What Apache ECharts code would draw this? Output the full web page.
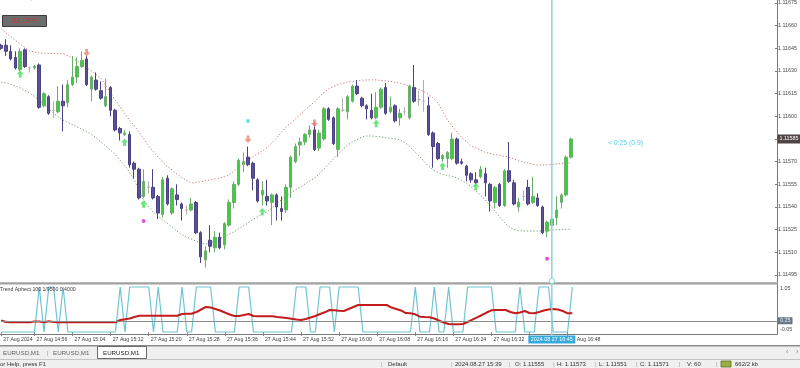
<!DOCTYPE html>
<html><head><meta charset="utf-8">
<script src="https://cdn.jsdelivr.net/npm/echarts@6/dist/echarts.min.js"></script>
<style>html,body{margin:0;padding:0;background:#fff;overflow:hidden}#c{width:800px;height:368px}</style>
</head><body><div id="c"></div>
<script>
// ---------- DATA ----------
const startTime = '14:49';
const slotCount = 164;          // visible bar slots (incl. empty right shift)
const lastLabelIndex = 119;     // last labelled bar (16:48)
const crossIndex = 116;         // crosshair bar (16:45)

const opens = [1.11647,1.11647,1.11643,1.11639,1.11631,1.11644,1.11632,1.11632,1.11634,1.11607,
1.11613,1.11604,1.11603,1.11610,1.11609,1.11621,1.11626,1.11633,1.11638,1.11618,
1.11624,1.11617,1.11607,1.11619,1.11604,1.11592,1.11588,1.11588,1.11569,1.11565,
1.11547,1.11553,1.11553,1.11547,1.11535,1.11559,1.11536,1.11548,1.11542,1.11538,
1.11538,1.11543,1.11523,1.11505,1.11518,1.11513,1.11520,1.11515,1.11528,1.11543,
1.11555,1.11568,1.11573,1.11569,1.11558,1.11548,1.11547,1.11543,1.11548,1.11539,
1.11538,1.11553,1.11570,1.11581,1.11583,1.11588,1.11591,1.11579,1.11585,1.11605,
1.11599,1.11578,1.11604,1.11603,1.11610,1.11620,1.11612,1.11607,1.11604,1.11599,
1.11606,1.11619,1.11603,1.11607,1.11599,1.11603,1.11599,1.11619,1.11611,1.11610,
1.11607,1.11589,1.11582,1.11572,1.11572,1.11572,1.11585,1.11570,1.11567,1.11562,
1.11558,1.11560,1.11562,1.11555,1.11543,1.11555,1.11541,1.11564,1.11556,1.11540,
1.11547,1.11553,1.11543,1.11546,1.11540,1.11524,1.11528,1.11533,1.11543,1.11548,
1.11573];
const highs = [1.11648,1.11651,1.11647,1.11643,1.11645,1.11645,1.11633,1.11634,1.11635,1.11616,
1.11614,1.11610,1.11620,1.11621,1.11624,1.11640,1.11639,1.11643,1.11640,1.11627,
1.11629,1.11623,1.11625,1.11620,1.11605,1.11593,1.11591,1.11590,1.11570,1.11566,
1.11565,1.11557,1.11565,1.11548,1.11560,1.11561,1.11553,1.11555,1.11543,1.11541,
1.11546,1.11544,1.11524,1.11514,1.11528,1.11524,1.11523,1.11530,1.11545,1.11557,
1.11572,1.11576,1.11580,1.11570,1.11559,1.11557,1.11558,1.11549,1.11549,1.11547,
1.11555,1.11574,1.11582,1.11586,1.11589,1.11594,1.11596,1.11591,1.11606,1.11606,
1.11600,1.11606,1.11612,1.11614,1.11621,1.11624,1.11613,1.11608,1.11615,1.11616,
1.11619,1.11622,1.11613,1.11608,1.11605,1.11606,1.11621,1.11634,1.11617,1.11624,
1.11613,1.11590,1.11583,1.11575,1.11577,1.11589,1.11586,1.11572,1.11568,1.11563,
1.11563,1.11567,1.11566,1.11556,1.11554,1.11556,1.11565,1.11583,1.11558,1.11546,
1.11551,1.11558,1.11560,1.11549,1.11541,1.11531,1.11534,1.11547,1.11549,1.11574,
1.11586];
const lows = [1.11644,1.11640,1.11637,1.11631,1.11630,1.11632,1.11629,1.11631,1.11605,1.11606,
1.11601,1.11599,1.11602,1.11590,1.11606,1.11620,1.11622,1.11632,1.11620,1.11610,
1.11617,1.11611,1.11606,1.11600,1.11590,1.11584,1.11587,1.11566,1.11559,1.11545,
1.11546,1.11549,1.11545,1.11532,1.11533,1.11541,1.11535,1.11541,1.11531,1.11535,
1.11537,1.11522,1.11503,1.11500,1.11510,1.11510,1.11512,1.11512,1.11527,1.11539,
1.11554,1.11563,1.11567,1.11551,1.11543,1.11541,1.11541,1.11528,1.11531,1.11531,
1.11536,1.11546,1.11569,1.11574,1.11581,1.11586,1.11577,1.11577,1.11584,1.11597,
1.11581,1.11573,1.11603,1.11598,1.11609,1.11614,1.11606,1.11598,1.11598,1.11598,
1.11605,1.11601,1.11602,1.11596,1.11594,1.11601,1.11598,1.11609,1.11607,1.11603,
1.11587,1.11566,1.11571,1.11570,1.11566,1.11571,1.11568,1.11568,1.11557,1.11556,
1.11555,1.11559,1.11547,1.11537,1.11539,1.11540,1.11540,1.11556,1.11541,1.11537,
1.11544,1.11541,1.11542,1.11540,1.11522,1.11520,1.11527,1.11528,1.11539,1.11547,
1.11572];
const closes = [1.11645,1.11643,1.11638,1.11632,1.11643,1.11633,1.11632,1.11633,1.11606,1.11615,
1.11602,1.11604,1.11610,1.11607,1.11621,1.11626,1.11633,1.11637,1.11621,1.11626,
1.11618,1.11612,1.11613,1.11604,1.11591,1.11589,1.11589,1.11568,1.11565,1.11546,
1.11557,1.11553,1.11546,1.11536,1.11558,1.11542,1.11552,1.11545,1.11539,1.11538,
1.11542,1.11523,1.11507,1.11511,1.11514,1.11520,1.11513,1.11529,1.11543,1.11555,
1.11571,1.11570,1.11568,1.11559,1.11544,1.11551,1.11544,1.11548,1.11540,1.11537,
1.11553,1.11573,1.11580,1.11583,1.11588,1.11591,1.11578,1.11589,1.11605,1.11598,
1.11582,1.11605,1.11604,1.11613,1.11620,1.11615,1.11607,1.11605,1.11599,1.11606,
1.11618,1.11602,1.11606,1.11597,1.11602,1.11603,1.11620,1.11610,1.11611,1.11610,
1.11588,1.11580,1.11572,1.11574,1.11576,1.11585,1.11569,1.11569,1.11561,1.11558,
1.11556,1.11565,1.11556,1.11544,1.11553,1.11541,1.11564,1.11557,1.11542,1.11543,
1.11547,1.11542,1.11547,1.11541,1.11523,1.11530,1.11532,1.11538,1.11548,1.11573,
1.11585];

const upperBand = [1.116581,1.116552,1.116528,1.116502,1.116479,1.116456,1.116433,1.116426,1.116419,1.116418,
1.116416,1.116416,1.116416,1.116413,1.116403,1.116386,1.116366,1.116343,1.116320,1.116300,
1.116277,1.116251,1.116208,1.116158,1.116108,1.116065,1.116019,1.115976,1.115940,1.115897,
1.115854,1.115807,1.115768,1.115731,1.115698,1.115668,1.115645,1.115619,1.115595,1.115576,
1.115559,1.115562,1.115567,1.115574,1.115579,1.115586,1.115592,1.115599,1.115612,1.115639,
1.115662,1.115685,1.115711,1.115733,1.115751,1.115771,1.115794,1.115824,1.115857,1.115893,
1.115930,1.115956,1.115983,1.116012,1.116042,1.116069,1.116095,1.116128,1.116158,1.116181,
1.116198,1.116210,1.116217,1.116227,1.116231,1.116234,1.116239,1.116241,1.116241,1.116241,
1.116237,1.116235,1.116232,1.116225,1.116219,1.116211,1.116201,1.116191,1.116178,1.116165,
1.116145,1.116122,1.116088,1.116035,1.115976,1.115936,1.115897,1.115860,1.115834,1.115804,
1.115791,1.115777,1.115761,1.115754,1.115748,1.115742,1.115736,1.115729,1.115719,1.115708,
1.115698,1.115691,1.115682,1.115678,1.115678,1.115678,1.115682,1.115685,1.115688,1.115691,
1.115693];
const lowerBand = [1.116227,1.116221,1.116212,1.116201,1.116188,1.116171,1.116155,1.116132,1.116108,1.116079,
1.116049,1.116022,1.115996,1.115976,1.115959,1.115946,1.115930,1.115914,1.115899,1.115881,
1.115857,1.115830,1.115804,1.115777,1.115748,1.115711,1.115675,1.115632,1.115579,1.115513,
1.115447,1.115404,1.115367,1.115341,1.115314,1.115291,1.115268,1.115241,1.115218,1.115202,
1.115189,1.115175,1.115162,1.115155,1.115159,1.115172,1.115189,1.115205,1.115218,1.115235,
1.115255,1.115275,1.115294,1.115318,1.115334,1.115354,1.115367,1.115394,1.115420,1.115447,
1.115473,1.115493,1.115513,1.115533,1.115552,1.115572,1.115592,1.115619,1.115652,1.115685,
1.115718,1.115751,1.115781,1.115811,1.115830,1.115847,1.115863,1.115870,1.115870,1.115867,
1.115863,1.115859,1.115855,1.115850,1.115844,1.115827,1.115801,1.115771,1.115738,1.115705,
1.115672,1.115645,1.115629,1.115615,1.115609,1.115602,1.115592,1.115576,1.115559,1.115533,
1.115506,1.115476,1.115447,1.115410,1.115374,1.115334,1.115298,1.115268,1.115251,1.115245,
1.115241,1.115241,1.115241,1.115241,1.115243,1.115246,1.115248,1.115249,1.115251,1.115253,
1.115253];

// signal markers: [bar index, price]
const sellArrows = [[18,1.116421],[52,1.115848],[66,1.115954]];
const buyArrows = [[4,1.116280],[26,1.115828],[30,1.115420],[55,1.115369],[79,1.115953],[93,1.115670],[100,1.115535]];
const cyanDots = [[52,1.115969]];
const magentaDots = [[30,1.115308],[115,1.115058]];

// indicator pane
const trendSignal = [0,0,0,0,0,0,0,0,1,0,
1,1,0,1,0,0,0,0,0,0,
0,0,0,0,0,1,0,1,1,1,
1,1,0,1,0,0,0,0,1,0,
0,1,1,1,1,0,0,0,0,0,
1,1,1,0,0,0,0,0,0,0,
0,0,1,1,1,0,0,1,1,1,
0,1,1,1,1,1,0,0,0,0,
0,0,0,0,0,0,0,1,0,0,
0,1,0,0,1,0,0,0,1,1,
1,1,1,1,0,0,0,0,0,1,
0,0,0,1,1,1,0,0,0,0,
1];
const trendLine = [0.256,0.222,0.216,0.216,0.216,0.216,0.216,0.233,0.233,0.216,
0.238,0.222,0.216,0.216,0.216,0.216,0.216,0.216,0.216,0.216,
0.216,0.216,0.216,0.216,0.216,0.267,0.282,0.300,0.333,0.360,
0.362,0.362,0.362,0.362,0.362,0.362,0.362,0.362,0.400,0.407,
0.407,0.444,0.500,0.556,0.544,0.511,0.478,0.433,0.389,0.356,
0.356,0.378,0.400,0.356,0.349,0.349,0.349,0.349,0.333,0.322,
0.311,0.296,0.278,0.267,0.289,0.322,0.356,0.400,0.438,0.489,
0.482,0.473,0.467,0.511,0.556,0.600,0.600,0.600,0.600,0.600,
0.600,0.600,0.544,0.511,0.478,0.422,0.416,0.393,0.340,0.333,
0.329,0.300,0.251,0.211,0.178,0.171,0.171,0.178,0.222,0.273,
0.327,0.378,0.433,0.482,0.489,0.489,0.489,0.444,0.416,0.433,
0.467,0.422,0.416,0.444,0.478,0.500,0.511,0.500,0.467,0.416,
0.416];
const trendLevel = 0.25;

const priceTicks = {min:1.11495, max:1.11675, step:0.00015};
const indTicks = {min:-0.05, max:1.05};

// ---------- BUILD ----------
const [sh, sm] = startTime.split(':').map(Number);
const categories = [];
for (let i = 0; i < slotCount; i++) {
  const t = sh*60 + sm + i;
  categories.push(String(Math.floor(t/60)).padStart(2,'0') + ':' + String(t%60).padStart(2,'0'));
}
const isLabelled = (idx) => idx === 0 || (idx <= lastLabelIndex && (sh*60+sm+idx) % 8 === 0);
const candleData = opens.map((o,i) => [o, closes[i], lows[i], highs[i]]);
const lastClose = closes[closes.length-1];

const F = 'Liberation Sans, Arial, sans-serif';
const chart = echarts.init(document.getElementById('c'), null, {renderer:'canvas'});
const arrowUp = 'path://M4,0 L8,4.2 L5.6,4.2 L5.6,8 L2.4,8 L2.4,4.2 L0,4.2 Z';

chart.setOption({
  animation:false,
  backgroundColor:'#ffffff',
  grid:[
    {left:1.2, right:23, top:3, height:272},
    {left:1.2, right:23, top:284.75, height:49.5}
  ],
  xAxis:[
    {type:'category', gridIndex:0, data:categories, boundaryGap:false, show:false},
    {type:'category', gridIndex:1, data:categories, boundaryGap:false,
     axisLine:{show:false},
     axisTick:{show:true, interval:(i)=>isLabelled(i), length:4, lineStyle:{color:'#8a8a8a'}},
     axisLabel:{interval:(i)=>isLabelled(i), align:'left', margin:3, padding:[0,0,0,2],
       fontSize:5.2, fontFamily:F, color:'#404040',
       formatter:(v,idx)=> idx===0 ? '27 Aug 2024' : '27 Aug ' + v}}
  ],
  yAxis:[
    {type:'value', gridIndex:0, position:'right', min:priceTicks.min, max:priceTicks.max, interval:priceTicks.step,
     axisLine:{show:false}, splitLine:{show:false},
     axisTick:{show:true, length:3, lineStyle:{color:'#7a7a7a'}},
     axisLabel:{margin:3, fontSize:5.4, fontFamily:F, color:'#4a4a4a', formatter:(v)=>v.toFixed(5)}},
    {type:'value', gridIndex:1, position:'right', min:indTicks.min, max:indTicks.max, interval:0.05,
     axisLine:{show:false}, splitLine:{show:false}, axisTick:{show:false},
     axisLabel:{margin:3, fontSize:5.4, fontFamily:F, color:'#4a4a4a', showMinLabel:true, showMaxLabel:true,
       formatter:(v)=>{
         if (Math.abs(v-indTicks.max)<1e-6) return '{t|'+indTicks.max.toFixed(2)+'}';
         if (Math.abs(v-indTicks.min)<1e-6) return '{b|'+indTicks.min.toFixed(2)+'}';
         if (Math.abs(v)<1e-6) return '0.00';
         return '';
       },
       rich:{t:{padding:[8,0,0,0], fontSize:5.4, fontFamily:F, color:'#4a4a4a'},
             b:{padding:[0,0,9,0], fontSize:5.4, fontFamily:F, color:'#4a4a4a'}}}}
  ],
  series:[
    {type:'line', xAxisIndex:0, yAxisIndex:0, data:upperBand, showSymbol:false, silent:true,
     lineStyle:{type:[1.2,2], width:1, color:'#c77a72'}, z:2},
    {type:'line', xAxisIndex:0, yAxisIndex:0, data:lowerBand, showSymbol:false, silent:true,
     lineStyle:{type:[1.2,2], width:1, color:'#6c9a6c'}, z:2},
    {type:'candlestick', xAxisIndex:0, yAxisIndex:0, data:candleData, barWidth:3, z:3,
     itemStyle:{color:'#3ccf3c', color0:'#5a5096', borderColor:'#6aae6a', borderColor0:'#4a4284',
       borderColorDoji:'#b0b0b0', borderWidth:1},
     markLine:{silent:true, symbol:['none','none'], animation:false,
       lineStyle:{color:'#e6e6e6', width:1, type:'solid'},
       label:{show:false},
       data:[{yAxis:lastClose}]}},
    {type:'scatter', xAxisIndex:0, yAxisIndex:0, data:buyArrows, symbol:arrowUp, symbolSize:[7,7.5],
     itemStyle:{color:'#44e05a'}, z:5, silent:true},
    {type:'scatter', xAxisIndex:0, yAxisIndex:0, data:sellArrows, symbol:arrowUp, symbolRotate:180, symbolSize:[7,7.5],
     itemStyle:{color:'#ea7f6c'}, z:5, silent:true},
    {type:'scatter', xAxisIndex:0, yAxisIndex:0, data:cyanDots, symbol:'circle', symbolSize:4,
     itemStyle:{color:'#40d8e4'}, z:5, silent:true},
    {type:'scatter', xAxisIndex:0, yAxisIndex:0, data:magentaDots, symbol:'circle', symbolSize:4,
     itemStyle:{color:'#e020d8'}, z:5, silent:true},
    {type:'line', xAxisIndex:1, yAxisIndex:1, data:trendSignal, showSymbol:false, silent:true,
     lineStyle:{width:1.2, color:'#6ec4d4'}, z:2},
    {type:'line', xAxisIndex:1, yAxisIndex:1, data:trendLine, showSymbol:false, silent:true,
     lineStyle:{width:2, color:'#c41c1c'}, z:3,
     markLine:{silent:true, symbol:['none','none'], animation:false,
       lineStyle:{color:'#8c8c8c', width:1, type:'solid'},
       label:{position:'end', distance:1, formatter:()=>trendLevel.toFixed(2), fontSize:5.4, fontFamily:F,
         color:'#eef2f6', backgroundColor:'#66778a', padding:[1,2,1,2]},
       data:[{yAxis:trendLevel}]}}
  ]
});

// ---------- window decorations ----------
const cx = chart.convertToPixel({gridIndex:0}, [crossIndex, lastClose])[0];
const bidY = chart.convertToPixel({gridIndex:0}, [0, lastClose])[1];
const txt = (x,y,s,opt,z) => ({type:'text', x, y, silent:true, z:z||50,
  style:Object.assign({text:s, font:'6px '+F, fill:'#303030', textVerticalAlign:'middle'}, opt||{})});
const ln = (x1,y1,x2,y2,stroke,w) => ({type:'line', silent:true, z:40,
  shape:{x1,y1,x2,y2}, style:{stroke, lineWidth:w||1}});
const statusY = 364.5;
chart.setOption({graphic:[
  // top partial info line
  txt(5,-1.5,'EURUSD,M1  1.11555 1.11573 1.11551 1.11571 1.11571 1.11571',{font:'6px '+F, fill:'#707070'}),
  // ZZ OFF button
  {type:'rect', silent:true, z:50, shape:{x:2.5,y:15.5,width:44,height:11}, style:{fill:'#6d6d6d', stroke:'#3c3c3c', lineWidth:1}},
  txt(24.5,21,'ZZ OFF',{font:'7.2px '+F, fill:'#e62a2a', textAlign:'center'},52),
  // pane frames
  ln(777.5,0,777.5,334.5,'#7a7a7a',1),
  {type:'rect', silent:true, z:40, shape:{x:0,y:282.3,width:778,height:2.2}, style:{fill:'#a0a0a0'}},
  ln(0,334.5,778,334.5,'#7a7a7a',1),
  txt(0,289.5,'Trend Aphect 100 1/9500 0.4000',{font:'5.2px '+F, fill:'#3a3a3a'}),
  // bid price box on the price scale
  {type:'rect', silent:true, z:55, shape:{x:777.5,y:bidY-4.5,width:23,height:9}, style:{fill:'#4f4545'}},
  txt(779.5,bidY,lastClose.toFixed(5),{font:'5.4px '+F, fill:'#ffffff'},57),
  // candle timer text
  txt(608,143.5,'< 0:25 (0.9)',{font:'6.8px '+F, fill:'#5ccfe0'}),
  // crosshair
  ln(cx,0,cx,335,'#8cd2e2',1.5),
  {type:'circle', silent:true, z:45, shape:{cx:cx, cy:281, r:2.6}, style:{fill:'#ffffff', stroke:'#8cd2e2', lineWidth:1}},
  {type:'rect', silent:true, z:48, shape:{x:cx-23.5,y:335.5,width:47,height:8}, style:{fill:'#36a9dc'}},
  txt(cx,339.6,'2024.08.27 ' + categories[crossIndex],{font:'5.4px '+F, fill:'#ffffff', textAlign:'center'},52),
  // tab bar
  ln(0,345.7,800,345.7,'#8a8a8a',1.4),
  {type:'rect', silent:true, z:39, shape:{x:0,y:346.5,width:800,height:13}, style:{fill:'#efefef'}},
  txt(3,353,'EURUSD,M1',{font:'6.2px '+F, fill:'#606060'}),
  txt(47,353,'|',{font:'6.2px '+F, fill:'#909090'}),
  txt(53,353,'EURUSD,M1',{font:'6.2px '+F, fill:'#606060'}),
  {type:'rect', silent:true, z:45, shape:{x:97.5,y:346.5,width:49,height:12}, style:{fill:'#ffffff', stroke:'#6a6a6a', lineWidth:1}},
  txt(103,353,'EURUSD,M1',{font:'6.2px '+F, fill:'#202020'}),
  txt(786,352.5,'‹',{font:'7px '+F, fill:'#808080'}),
  txt(796,352.5,'›',{font:'7px '+F, fill:'#808080'}),
  // status bar
  {type:'rect', silent:true, z:39, shape:{x:0,y:359.5,width:800,height:9}, style:{fill:'#f0f0f0'}},
  ln(0,359.5,800,359.5,'#c4c4c4',1),
  txt(0,statusY,'or Help, press F1'),
  txt(381,statusY,'|',{fill:'#a0a0a0'}),
  txt(388,statusY,'Default'),
  txt(451,statusY,'|',{fill:'#a0a0a0'}),
  txt(455,statusY,'2024.08.27 15:39'),
  txt(509,statusY,'|',{fill:'#a0a0a0'}),
  txt(515,statusY,'O: 1.11555'),
  txt(553,statusY,'|',{fill:'#a0a0a0'}),
  txt(557,statusY,'H: 1.11573'),
  txt(595,statusY,'|',{fill:'#a0a0a0'}),
  txt(599,statusY,'L: 1.11551'),
  txt(636,statusY,'|',{fill:'#a0a0a0'}),
  txt(640,statusY,'C: 1.11571'),
  txt(679,statusY,'|',{fill:'#a0a0a0'}),
  txt(687,statusY,'V: 60'),
  txt(716,statusY,'|',{fill:'#a0a0a0'}),
  {type:'rect', silent:true, z:50, shape:{x:721,y:361,width:10,height:6}, style:{fill:'#9cb040', stroke:'#5a6a2a', lineWidth:0.8}},
  txt(735,statusY,'662/2 kb')
]});
</script>
</body></html>
